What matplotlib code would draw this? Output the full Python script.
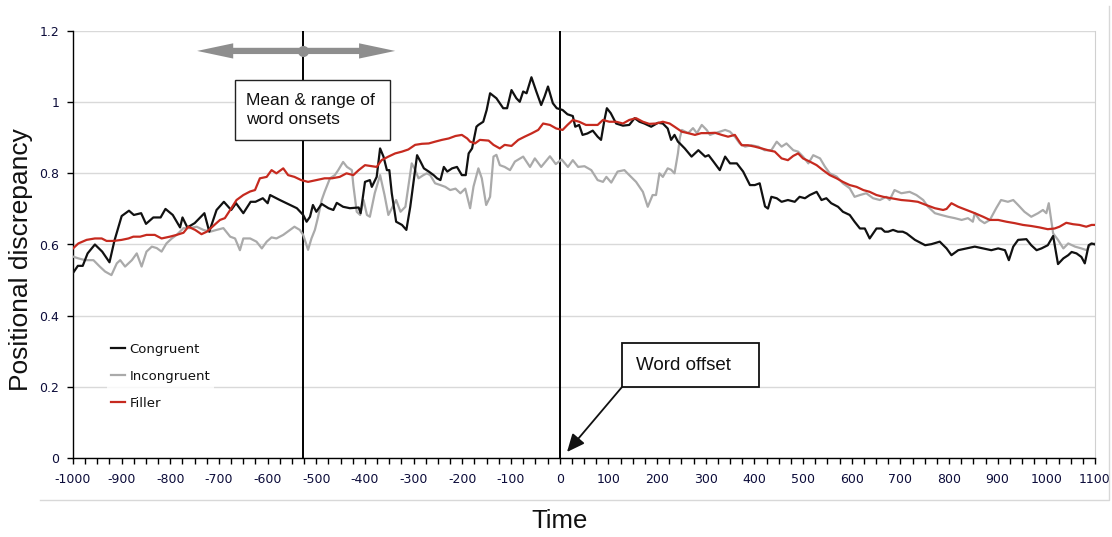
import numpy as np
import matplotlib
matplotlib.use("Agg")
import matplotlib.pyplot as plt
from matplotlib.patches import Rectangle, FancyArrowPatch
from matplotlib.lines import Line2D
from matplotlib.ticker import MultipleLocator, FixedLocator, FixedFormatter

plt.rcParams["axes.unicode_minus"] = False

# ---- data: positional discrepancy over time (ms relative to word offset) ----
congruent_t = [-1000, -990, -980, -970, -955, -940, -925, -915, -900, -885, -875, -860, -850, -835,
               -820, -810, -795, -780, -775, -765, -750, -730, -720, -705, -690, -675, -665, -650,
               -635, -625, -610, -600, -595, -575, -554, -540, -527, -520, -513, -507, -500, -489,
               -475, -465, -458, -445, -431, -413, -409, -400, -390, -386, -376, -369, -362, -355,
               -350, -345, -336, -324, -315, -307, -293, -286, -279, -269, -259, -252, -245, -238,
               -231, -221, -211, -201, -193, -187, -180, -171, -167, -157, -150, -143, -130, -116,
               -108, -99, -89, -82, -75, -68, -58, -48, -38, -31, -24, -14, -6, 6, 16, 27, 32, 40,
               47, 57, 68, 78, 85, 92, 97, 105, 116, 130, 143, 154, 164, 174, 188, 202, 212, 222,
               229, 236, 243, 247, 257, 271, 285, 299, 306, 316, 329, 340, 350, 364, 377, 391, 401,
               411, 422, 428, 435, 446, 456, 469, 483, 493, 504, 514, 528, 538, 548, 558, 572, 582,
               596, 606, 617, 627, 637, 651, 661, 668, 675, 685, 695, 705, 713, 730, 751, 764, 781,
               795, 805, 819, 836, 853, 870, 887, 901, 915, 923, 932, 942, 959, 969, 980, 990, 1003,
               1014, 1024, 1035, 1045, 1052, 1062, 1072, 1079, 1087, 1093, 1100]
congruent_v = [0.52, 0.54, 0.54, 0.575, 0.60, 0.58, 0.55, 0.61, 0.68, 0.695, 0.683, 0.688, 0.658, 0.676,
               0.676, 0.70, 0.683, 0.648, 0.676, 0.648, 0.66, 0.688, 0.636, 0.697, 0.72, 0.697, 0.716,
               0.688, 0.72, 0.72, 0.73, 0.716, 0.739, 0.725, 0.711, 0.702, 0.683, 0.664, 0.678, 0.711,
               0.692, 0.714, 0.702, 0.697, 0.717, 0.706, 0.702, 0.704, 0.688, 0.776, 0.781, 0.762,
               0.79, 0.87, 0.847, 0.809, 0.809, 0.744, 0.664, 0.655, 0.641, 0.706, 0.851, 0.833,
               0.814, 0.805, 0.795, 0.786, 0.781, 0.818, 0.805, 0.814, 0.818, 0.795, 0.795, 0.856,
               0.87, 0.931, 0.936, 0.945, 0.978, 1.025, 1.011, 0.983, 0.983, 1.034, 1.011, 1.001,
               1.03, 1.025, 1.07, 1.03, 0.992, 1.016, 1.044, 0.997, 0.983, 0.978, 0.966, 0.961,
               0.931, 0.936, 0.908, 0.912, 0.92, 0.903, 0.894, 0.95, 0.983, 0.969, 0.94, 0.934,
               0.936, 0.955, 0.945, 0.94, 0.931, 0.942, 0.94, 0.926, 0.894, 0.908, 0.889, 0.884,
               0.87, 0.847, 0.865, 0.847, 0.851, 0.833, 0.809, 0.847, 0.828, 0.828, 0.805, 0.767,
               0.767, 0.772, 0.707, 0.701, 0.734, 0.73, 0.72, 0.725, 0.72, 0.734, 0.73, 0.739, 0.748,
               0.725, 0.73, 0.716, 0.706, 0.692, 0.683, 0.664, 0.645, 0.645, 0.617, 0.645, 0.645,
               0.636, 0.636, 0.641, 0.636, 0.636, 0.631, 0.613, 0.598, 0.601, 0.608, 0.589, 0.57,
               0.584, 0.589, 0.594, 0.589, 0.584, 0.589, 0.584, 0.556, 0.594, 0.613, 0.615, 0.598,
               0.584, 0.589, 0.598, 0.624, 0.545, 0.561, 0.57, 0.579, 0.575, 0.565, 0.547, 0.598,
               0.603, 0.60]

incongruent_t = [-1000, -989, -975, -958, -945, -934, -921, -910, -903, -893, -879, -869, -859, -849,
                 -838, -828, -818, -808, -797, -787, -773, -760, -746, -732, -718, -705, -691, -677,
                 -667, -657, -650, -636, -623, -612, -602, -592, -582, -568, -554, -545, -534, -527,
                 -517, -510, -503, -497, -489, -483, -472, -462, -455, -445, -437, -427, -424, -417,
                 -410, -403, -396, -390, -380, -369, -360, -352, -336, -327, -317, -304, -297, -290,
                 -280, -273, -266, -256, -245, -235, -225, -214, -204, -194, -184, -177, -167, -160,
                 -151, -143, -136, -130, -123, -113, -102, -92, -75, -61, -51, -38, -20, -8, 4, 17,
                 27, 38, 51, 65, 78, 89, 96, 106, 119, 133, 143, 157, 171, 181, 191, 198, 205, 212,
                 222, 229, 236, 243, 247, 251, 264, 274, 282, 292, 302, 309, 319, 329, 340, 350, 360,
                 370, 381, 394, 408, 421, 435, 446, 456, 466, 480, 490, 500, 511, 521, 535, 545, 555,
                 569, 582, 596, 606, 617, 630, 644, 658, 671, 678, 688, 702, 719, 733, 747, 757, 771,
                 784, 798, 812, 826, 839, 849, 853, 863, 873, 884, 897, 907, 921, 932, 942, 955, 969,
                 983, 993, 1000, 1005, 1009, 1014, 1024, 1035, 1045, 1059, 1072, 1083, 1089, 1100]
incongruent_v = [0.566, 0.561, 0.556, 0.556, 0.538, 0.524, 0.514, 0.547, 0.556, 0.538, 0.556, 0.575,
                 0.538, 0.58, 0.594, 0.59, 0.58, 0.603, 0.617, 0.627, 0.646, 0.646, 0.65, 0.641,
                 0.636, 0.641, 0.646, 0.622, 0.617, 0.584, 0.617, 0.617, 0.608, 0.589, 0.608, 0.62,
                 0.617, 0.627, 0.641, 0.65, 0.641, 0.627, 0.585, 0.617, 0.641, 0.674, 0.725, 0.748,
                 0.786, 0.795, 0.809, 0.832, 0.818, 0.809, 0.767, 0.692, 0.683, 0.725, 0.683, 0.678,
                 0.744, 0.795, 0.74, 0.683, 0.725, 0.692, 0.706, 0.828, 0.81, 0.786, 0.795, 0.80,
                 0.795, 0.772, 0.767, 0.762, 0.753, 0.757, 0.744, 0.757, 0.702, 0.763, 0.814, 0.786,
                 0.711, 0.734, 0.847, 0.852, 0.823, 0.818, 0.809, 0.833, 0.847, 0.818, 0.842, 0.818,
                 0.848, 0.826, 0.839, 0.818, 0.837, 0.818, 0.82, 0.809, 0.781, 0.776, 0.79, 0.774,
                 0.805, 0.809, 0.795, 0.776, 0.748, 0.706, 0.739, 0.739, 0.80, 0.79, 0.814, 0.81,
                 0.80, 0.856, 0.90, 0.922, 0.913, 0.927, 0.913, 0.936, 0.922, 0.908, 0.913, 0.917,
                 0.922, 0.917, 0.903, 0.884, 0.875, 0.879, 0.875, 0.865, 0.865, 0.889, 0.875, 0.884,
                 0.865, 0.861, 0.847, 0.828, 0.851, 0.842, 0.819, 0.80, 0.791, 0.772, 0.758, 0.734,
                 0.739, 0.744, 0.73, 0.725, 0.734, 0.725, 0.753, 0.744, 0.748, 0.739, 0.725, 0.706,
                 0.688, 0.683, 0.678, 0.674, 0.669, 0.674, 0.664, 0.688, 0.669, 0.66, 0.669, 0.702,
                 0.725, 0.72, 0.725, 0.711, 0.692, 0.678, 0.688, 0.697, 0.688, 0.716, 0.678, 0.631,
                 0.613, 0.589, 0.603, 0.594, 0.589, 0.584, 0.598, 0.603]

filler_t = [-1000, -989, -972, -955, -941, -931, -917, -900, -886, -876, -862, -849, -832, -818, -801,
            -787, -773, -763, -749, -736, -725, -712, -698, -688, -677, -664, -650, -636, -626, -616,
            -602, -592, -582, -568, -558, -545, -531, -517, -500, -483, -468, -452, -438, -424, -413,
            -400, -386, -376, -366, -352, -338, -324, -311, -297, -283, -269, -256, -242, -228, -214,
            -201, -190, -184, -174, -164, -146, -136, -123, -113, -99, -85, -72, -58, -44, -34, -20,
            -7, 6, 16, 27, 40, 54, 68, 78, 89, 102, 116, 130, 143, 157, 171, 184, 198, 212, 226, 236,
            251, 264, 278, 291, 305, 319, 333, 346, 360, 374, 387, 401, 415, 428, 442, 456, 469, 480,
            490, 500, 514, 528, 541, 555, 569, 582, 596, 610, 624, 637, 651, 665, 685, 702, 719, 736,
            753, 771, 788, 795, 805, 819, 836, 853, 870, 884, 901, 918, 935, 952, 969, 986, 1003,
            1017, 1027, 1041, 1055, 1068, 1082, 1093, 1100]
filler_v = [0.589, 0.603, 0.613, 0.617, 0.617, 0.61, 0.61, 0.613, 0.617, 0.622, 0.622, 0.627, 0.627,
            0.617, 0.622, 0.627, 0.633, 0.65, 0.641, 0.629, 0.636, 0.652, 0.669, 0.674, 0.697, 0.725,
            0.739, 0.749, 0.753, 0.786, 0.79, 0.809, 0.80, 0.814, 0.795, 0.79, 0.781, 0.776, 0.781,
            0.786, 0.786, 0.79, 0.80, 0.795, 0.809, 0.823, 0.82, 0.818, 0.837, 0.847, 0.856, 0.861,
            0.867, 0.88, 0.883, 0.884, 0.889, 0.894, 0.898, 0.905, 0.908, 0.898, 0.889, 0.884, 0.894,
            0.892, 0.88, 0.87, 0.88, 0.877, 0.894, 0.903, 0.912, 0.922, 0.94, 0.936, 0.926, 0.922,
            0.936, 0.95, 0.945, 0.936, 0.936, 0.936, 0.95, 0.945, 0.945, 0.94, 0.95, 0.955, 0.945,
            0.939, 0.94, 0.945, 0.94, 0.931, 0.917, 0.913, 0.908, 0.913, 0.913, 0.914, 0.908, 0.903,
            0.908, 0.879, 0.879, 0.875, 0.87, 0.865, 0.861, 0.842, 0.837, 0.849, 0.856, 0.842, 0.833,
            0.823, 0.809, 0.795, 0.786, 0.776, 0.767, 0.762, 0.753, 0.748, 0.739, 0.734, 0.729, 0.725,
            0.723, 0.72, 0.711, 0.702, 0.697, 0.70, 0.716, 0.706, 0.697, 0.688, 0.678, 0.669, 0.669,
            0.664, 0.66, 0.655, 0.652, 0.648, 0.643, 0.645, 0.65, 0.661, 0.657, 0.655, 0.65, 0.655,
            0.655]

series_labels = ["Congruent", "Incongruent", "Filler"]
series_colors = ["#111111", "#aaaaaa", "#c62a1f"]

x_ticks = list(range(-1000, 1101, 100))
y_ticks = [0, 0.2, 0.4, 0.6, 0.8, 1.0, 1.2]
y_tick_labels = ["0", "0.2", "0.4", "0.6", "0.8", "1", "1.2"]

onset_mean = -528          # mean word onset (ms)
onset_range = (-745, -338)  # range of word onsets (ms)
onset_marker_y = 1.144

# ---- figure layout (pixel helpers) ----
W, H = 1112, 537
fig = plt.figure(figsize=(W / 100, H / 100), dpi=100)


def fx(x):
    return x / W


def fy(y):
    return 1 - y / H


# light shadow edge along the bottom and right of the chart area
fig.lines.append(Line2D([fx(40), fx(1109), fx(1109)], [fy(500), fy(500), fy(6)],
                        transform=fig.transFigure, color="#d8d8d8", lw=1.0, zorder=0))

ax = fig.add_axes([fx(73), fy(458), fx(1095) - fx(73), fy(31) - fy(458)])
ax.set_xlim(-1000, 1100)
ax.set_ylim(0, 1.2)

tick_font = {"family": "DejaVu Sans", "size": 9}
tick_color = "#0c0c3a"

ax.xaxis.set_major_locator(FixedLocator(x_ticks))
ax.xaxis.set_minor_locator(MultipleLocator(25))
ax.set_xticklabels([str(v) for v in x_ticks], fontdict=tick_font, color=tick_color)
ax.yaxis.set_major_locator(FixedLocator(y_ticks))
ax.yaxis.set_major_formatter(FixedFormatter(y_tick_labels))
for lbl in ax.get_yticklabels():
    lbl.set_fontfamily("DejaVu Sans")
    lbl.set_fontsize(9)
    lbl.set_color(tick_color)

ax.tick_params(axis="x", which="both", direction="out", length=4, width=1, color="black", pad=7)
ax.tick_params(axis="y", which="major", direction="out", length=4, width=1, color="black", pad=6)

ax.grid(axis="y", color="#d9d9d9", lw=1.0, zorder=0)
ax.set_axisbelow(True)
ax.spines["top"].set_visible(False)
ax.spines["right"].set_color("#d0d0d0")
ax.spines["left"].set_linewidth(1.0)
ax.spines["bottom"].set_linewidth(1.0)

# reference lines: mean word onset and word offset
ax.axvline(onset_mean, color="black", lw=1.4, zorder=2)
ax.axvline(0, color="black", lw=1.4, zorder=2)

# the three conditions
h_inc, = ax.plot(incongruent_t, incongruent_v, color=series_colors[1], lw=1.6, zorder=3)
h_con, = ax.plot(congruent_t, congruent_v, color=series_colors[0], lw=1.6, zorder=4)
h_fil, = ax.plot(filler_t, filler_v, color=series_colors[2], lw=1.6, zorder=5)

leg = ax.legend([h_con, h_inc, h_fil], series_labels, loc="upper left",
                bbox_to_anchor=(fx(107), fy(339)), bbox_transform=fig.transFigure,
                prop={"family": "DejaVu Sans", "size": 9.5}, frameon=True, fancybox=False,
                handlelength=1.1, handletextpad=0.3, labelspacing=1.05, borderpad=0.3,
                borderaxespad=0)
leg.get_frame().set_facecolor("white")
leg.get_frame().set_edgecolor("none")
for txt in leg.get_texts():
    txt.set_color("#111111")

# range-of-onsets double arrow with a marker at the mean
arrow_kw = dict(arrowstyle="simple,head_length=26,head_width=11,tail_width=4.5",
                mutation_scale=1, color="#8e8e8e", lw=0, zorder=6, shrinkA=0, shrinkB=0)
ax.add_patch(FancyArrowPatch((onset_mean, onset_marker_y), (onset_range[0], onset_marker_y), **arrow_kw))
ax.add_patch(FancyArrowPatch((onset_mean, onset_marker_y), (onset_range[1], onset_marker_y), **arrow_kw))
ax.plot([onset_mean], [onset_marker_y], "o", color="#8e8e8e", ms=7, zorder=7)

# callout boxes
label_font = "Liberation Sans"
fig.patches.append(Rectangle((fx(235), fy(140)), fx(390) - fx(235), fy(80) - fy(140),
                             transform=fig.transFigure, facecolor="white",
                             edgecolor="#222222", lw=1.0, zorder=8))
fig.text(fx(246), fy(110), "Mean & range of\nword onsets", ha="left", va="center",
         fontsize=12.5, family=label_font, color="#111111", linespacing=1.25, zorder=9)

fig.patches.append(Rectangle((fx(622), fy(387)), fx(759) - fx(622), fy(343) - fy(387),
                             transform=fig.transFigure, facecolor="white",
                             edgecolor="#111111", lw=1.3, zorder=8))
fig.text(fx(636), fy(365), "Word offset", ha="left", va="center",
         fontsize=13.5, family=label_font, color="#111111", zorder=9)
fig.patches.append(FancyArrowPatch((fx(622), fy(387)), (fx(567), fy(452)),
                                   transform=fig.transFigure,
                                   arrowstyle="-|>,head_length=0.9,head_width=0.4",
                                   mutation_scale=12, color="#111111", lw=1.3,
                                   shrinkA=0, shrinkB=0, zorder=9))

# axis titles
fig.text(fx(560), fy(521), "Time", ha="center", va="center", fontsize=18.5,
         family=label_font, color="#111111")
fig.text(fx(21), fy(260), "Positional discrepancy", rotation=90, ha="center", va="center",
         fontsize=19, family=label_font, color="#111111")

fig.savefig("out.png", dpi=100, facecolor="white")
